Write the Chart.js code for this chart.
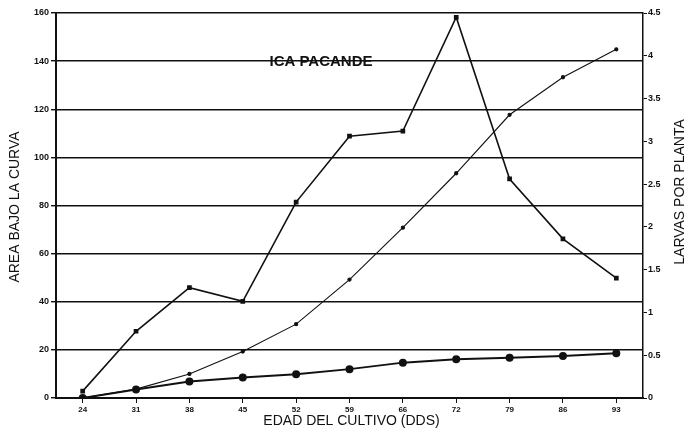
<!DOCTYPE html>
<html><head><meta charset="utf-8">
<script src="https://cdn.jsdelivr.net/npm/chart.js@4.4.1/dist/chart.umd.min.js"></script>
<style>html,body{margin:0;padding:0;background:#fff;} canvas{display:block;}</style>
</head><body>
<canvas id="c" width="688" height="437"></canvas>
<script>
// Edad del cultivo (DDS)
const categories = ['24','31','38','45','52','59','66','72','79','86','93'];
// Larvas por planta (eje derecho)
const larvasPorPlanta = [0.08, 0.78, 1.29, 1.13, 2.29, 3.06, 3.12, 4.45, 2.56, 1.86, 1.40];
// Área bajo la curva (eje izquierdo)
const areaBajoCurva = [0, 3.7, 10.0, 19.3, 30.7, 49.2, 70.8, 93.4, 117.7, 133.3, 144.9];
// Serie inferior (eje izquierdo)
const serieInferior = [0, 3.5, 6.9, 8.5, 9.9, 12.0, 14.7, 16.1, 16.7, 17.5, 18.6];

const titleText = 'ICA PACANDE';
const xTitle = 'EDAD DEL CULTIVO (DDS)';
const yLeftTitle = 'AREA BAJO LA CURVA';
const yRightTitle = 'LARVAS POR PLANTA';

const INK = '#111';
const FAM = '"Liberation Sans", Arial, sans-serif';

const textPlugin = {
  id: 'textPlugin',
  afterDraw(chart) {
    const ctx = chart.ctx;
    const a = chart.chartArea;
    ctx.save();
    ctx.fillStyle = INK;
    ctx.textAlign = 'center';
    ctx.textBaseline = 'middle';
    ctx.font = 'bold 15px ' + FAM;
    ctx.fillText(titleText, a.left + 265, chart.scales.y.getPixelForValue(140) + 1);
    ctx.font = '14px ' + FAM;
    ctx.fillText(xTitle, (a.left + a.right) / 2 + 2, 421);
    ctx.save();
    ctx.translate(15, 207);
    ctx.rotate(-Math.PI / 2);
    ctx.fillText(yLeftTitle, 0, 0);
    ctx.restore();
    ctx.save();
    ctx.translate(680, 192);
    ctx.rotate(-Math.PI / 2);
    ctx.fillText(yRightTitle, 0, 0);
    ctx.restore();
    ctx.restore();
  }
};

const tickFont = {size: 9, weight: 'bold', family: FAM};
const plainNum = v => String(Math.round(v * 100) / 100);

new Chart(document.getElementById('c'), {
  type: 'line',
  data: {
    labels: categories,
    datasets: [
      {
        label: 'Larvas por planta',
        data: larvasPorPlanta,
        yAxisID: 'y1',
        borderColor: INK, backgroundColor: INK,
        borderWidth: 1.6,
        pointStyle: 'rect', pointRadius: 2.2,
        tension: 0
      },
      {
        label: 'Área bajo la curva',
        data: areaBajoCurva,
        yAxisID: 'y',
        borderColor: INK, backgroundColor: INK,
        borderWidth: 1.1,
        pointStyle: 'circle', pointRadius: 1.6,
        tension: 0
      },
      {
        label: 'Serie inferior',
        data: serieInferior,
        yAxisID: 'y',
        borderColor: INK, backgroundColor: INK,
        borderWidth: 2,
        pointStyle: 'circle', pointRadius: 3,
        tension: 0
      }
    ]
  },
  options: {
    responsive: false,
    animation: false,
    devicePixelRatio: 1,
    layout: {padding: {top: 13, left: 0, right: 0, bottom: 0}},
    plugins: {legend: {display: false}, tooltip: {enabled: false}, title: {display: false}},
    scales: {
      x: {
        type: 'category',
        offset: true,
        grid: {display: true, drawOnChartArea: false, drawTicks: true, tickLength: 5, color: INK, lineWidth: 1},
        border: {display: true, color: INK, width: 2},
        ticks: {font: {size: 8, weight: 'bold', family: FAM}, color: INK, padding: 2, maxRotation: 0, autoSkip: false},
        afterFit(s) { s.height = 39; }
      },
      y: {
        position: 'left',
        min: 0, max: 160,
        ticks: {stepSize: 20, font: tickFont, color: INK, padding: 2, callback: plainNum},
        grid: {color: INK, lineWidth: 1.4, tickLength: 5},
        border: {display: true, color: INK, width: 2},
        afterFit(s) { s.width = 56; }
      },
      y1: {
        position: 'right',
        min: 0, max: 4.5,
        ticks: {stepSize: 0.5, font: tickFont, color: INK, padding: 1, callback: plainNum},
        grid: {drawOnChartArea: false, color: INK, lineWidth: 1, tickLength: 4},
        border: {display: true, color: INK, width: 1.5},
        afterFit(s) { s.width = 45; }
      }
    }
  },
  plugins: [textPlugin]
});
</script>
</body></html>
